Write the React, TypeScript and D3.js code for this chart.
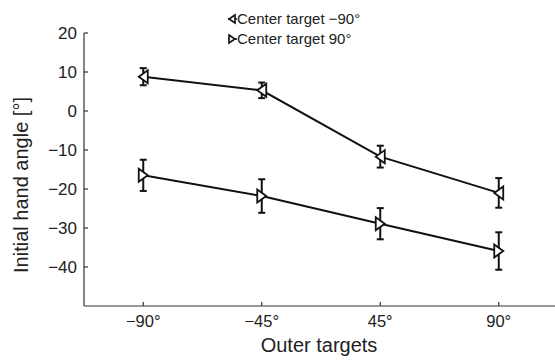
import React from "react";
import * as d3 from "d3";

const categories = ["−90°", "−45°", "45°", "90°"];
const seriesNames = ["Center target −90°", "Center target 90°"];
const meanNeg90 = [8.8, 5.3, -11.7, -21.0];
const errNeg90 = [2.2, 2.0, 2.8, 3.8];
const meanPos90 = [-16.5, -21.8, -28.9, -35.9];
const errPos90 = [4.0, 4.3, 4.0, 4.8];
const yTicks = [-40, -30, -20, -10, 0, 10, 20];

const W = 555, H = 361;
const left = 84, right = 558, top = 33, bottom = 306;

export default function App() {
  const x = d3.scaleLinear().domain([0.5, 4.5]).range([left, right]);
  const y = d3.scaleLinear().domain([-50, 20]).range([bottom, top]);
  const line = d3.line<number>().x((_, i) => x(i + 1)).y((d) => y(d));
  const font = "Liberation Sans, Arial, Helvetica, sans-serif";

  const series = [
    { mean: meanNeg90, err: errNeg90, dir: -1 },
    { mean: meanPos90, err: errPos90, dir: 1 },
  ];

  const tri = (cx: number, cy: number, dir: number, w = 8, h = 6) =>
    dir < 0
      ? `M${cx + w / 2},${cy - h} L${cx - w / 2},${cy} L${cx + w / 2},${cy + h} Z`
      : `M${cx - w / 2},${cy - h} L${cx + w / 2},${cy} L${cx - w / 2},${cy + h} Z`;

  return (
    <svg width={W} height={H} style={{ position: "absolute", left: 0, top: 0, background: "#fff" }}>
      <line x1={left} x2={left} y1={top} y2={bottom} stroke="#333" strokeWidth={1.2} />
      <line x1={left} x2={right} y1={bottom} y2={bottom} stroke="#333" strokeWidth={1.2} />
      {yTicks.map((t) => (
        <g key={t}>
          <line x1={left} x2={left + 4} y1={y(t)} y2={y(t)} stroke="#333" strokeWidth={1.2} />
          <text x={left - 7} y={y(t)} dy="0.36em" textAnchor="end" fontFamily={font} fontSize={17} fill="#222">
            {t < 0 ? "−" + Math.abs(t) : String(t)}
          </text>
        </g>
      ))}
      {categories.map((c, i) => (
        <g key={c}>
          <line x1={x(i + 1)} x2={x(i + 1)} y1={bottom} y2={bottom - 4} stroke="#333" strokeWidth={1.2} />
          <text x={x(i + 1)} y={bottom + 21} textAnchor="middle" fontFamily={font} fontSize={16.5} fill="#222">
            {c}
          </text>
        </g>
      ))}
      <text x={319} y={352} textAnchor="middle" fontFamily={font} fontSize={20} fill="#222">
        Outer targets
      </text>
      <text
        transform={`translate(28,185) rotate(-90)`}
        textAnchor="middle"
        fontFamily={font}
        fontSize={20}
        fill="#222"
      >
        Initial hand angle [°]
      </text>

      {series.map((s, si) => (
        <g key={si}>
          <path d={line(s.mean) || ""} fill="none" stroke="#111" strokeWidth={2} />
          {s.mean.map((m, i) => {
            const cx = x(i + 1);
            const y1 = y(m + s.err[i]);
            const y2 = y(m - s.err[i]);
            return (
              <g key={i}>
                <line x1={cx} x2={cx} y1={y1} y2={y2} stroke="#111" strokeWidth={2} />
                <line x1={cx - 3.5} x2={cx + 3.5} y1={y1} y2={y1} stroke="#111" strokeWidth={2} />
                <line x1={cx - 3.5} x2={cx + 3.5} y1={y2} y2={y2} stroke="#111" strokeWidth={2} />
                <path d={tri(cx, y(m), s.dir, 9, 6.5)} fill="#fff" stroke="#111" strokeWidth={1.8} />
              </g>
            );
          })}
        </g>
      ))}

      {seriesNames.map((n, i) => {
        const ly = 19 + i * 20;
        const dir = i === 0 ? -1 : 1;
        return (
          <g key={n}>
            <line x1={228} x2={237} y1={ly} y2={ly} stroke="#111" strokeWidth={1.5} />
            <path d={tri(232, ly, dir, 6, 4)} fill="#fff" stroke="#111" strokeWidth={1.6} />
            <text x={237} y={ly} dy="0.36em" fontFamily={font} fontSize={15} fill="#222">
              {n}
            </text>
          </g>
        );
      })}
    </svg>
  );
}
